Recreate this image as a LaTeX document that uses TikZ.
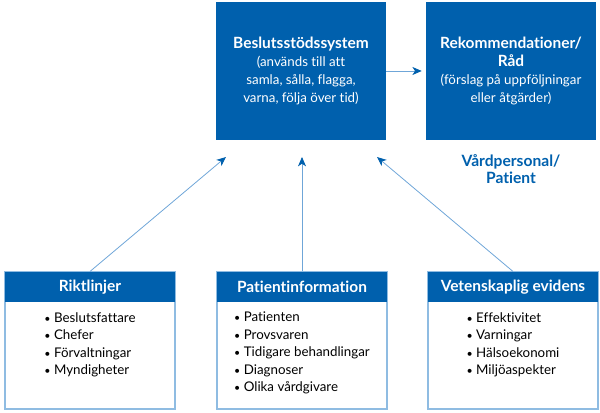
\documentclass[tikz,border=0pt]{standalone}
\usepackage{fontspec}
\setmainfont{Lato}[Ligatures=NoCommon]
\usetikzlibrary{arrows.meta,positioning}
\definecolor{Blue}{HTML}{0060AD}
\definecolor{LightBlue}{HTML}{8FBCE2}
\definecolor{ArrowLine}{HTML}{6FA6D8}
\newcommand\titlefont{\bfseries\fontsize{11.6}{13.5}\selectfont}
\newcommand\itemdot{{\fontsize{8}{8}\selectfont\textbullet}\ }
\tikzset{
 topbox/.style={fill=Blue, minimum width=127.5pt, minimum height=103.5pt, inner sep=0pt, align=center, text=white, font=\fontsize{10}{13.5}\selectfont},
 listbox/.style={draw=LightBlue, line width=0.8pt, fill=white, minimum width=127.5pt, minimum height=102.75pt, inner sep=0pt},
 headbar/.style={fill=Blue, minimum width=127.5pt, minimum height=22.5pt, inner sep=0pt, text=white, font=\bfseries\fontsize{11.6}{13}\selectfont},
 items/.style={align=left, inner sep=0pt, font=\fontsize{10}{13.1}\selectfont},
 arrow/.style={-{Stealth[length=7pt,width=6pt,inset=2pt,color=Blue]}, draw=ArrowLine, line width=0.6pt}
}

\begin{document}
\begin{tikzpicture}[x=0.75pt,y=-0.75pt]
\useasboundingbox (0,0) rectangle (600,413);
% top row
\node[topbox] (sys) at (301,71) {{\titlefont Beslutsstödssystem}\\(används till att\\samla, sålla, flagga,\\varna, följa över tid)};
\node[topbox] (rek) at (511,71) {{\titlefont Rekommendationer/}\\{\titlefont Råd}\\(förslag på uppföljningar\\eller åtgärder)};
\node[align=center, text=Blue, font=\bfseries\fontsize{11.7}{13}\selectfont] (who) at (511,169) {Vårdpersonal/\\Patient};
\draw[arrow, shorten >=3pt] (sys) -- (rek);
% bottom row
\node[listbox] (rikt) at (90,340.5) {};
\node[headbar, anchor=north] (riktH) at (rikt.north) {Riktlinjer};
\node[items, below=7.5pt of riktH] (riktL) {\itemdot Beslutsfattare\\\itemdot Chefer\\\itemdot Förvaltningar\\\itemdot Myndigheter};
\node[listbox] (pat) at (302,340.5) {};
\node[headbar, anchor=north] (patH) at (pat.north) {Patientinformation};
\node[items, below=7.5pt of patH] (patL) {\itemdot Patienten\\\itemdot Provsvaren\\\itemdot Tidigare behandlingar\\\itemdot Diagnoser\\\itemdot Olika vårdgivare};
\node[listbox] (vet) at (513,340.5) {};
\node[headbar, anchor=north] (vetH) at (vet.north) {Vetenskaplig evidens};
\node[items, below=7.5pt of vetH] (vetL) {\itemdot Effektivitet\\\itemdot Varningar\\\itemdot Hälsoekonomi\\\itemdot Miljöaspekter};
% inputs
\coordinate (in1) at (226,157);
\coordinate (in2) at (302,157);
\coordinate (in3) at (377,157);
\draw[arrow] (rikt.north) -- (in1);
\draw[arrow] (pat.north) -- (in2);
\draw[arrow] (vet.north) -- (in3);
\end{tikzpicture}
\end{document}
